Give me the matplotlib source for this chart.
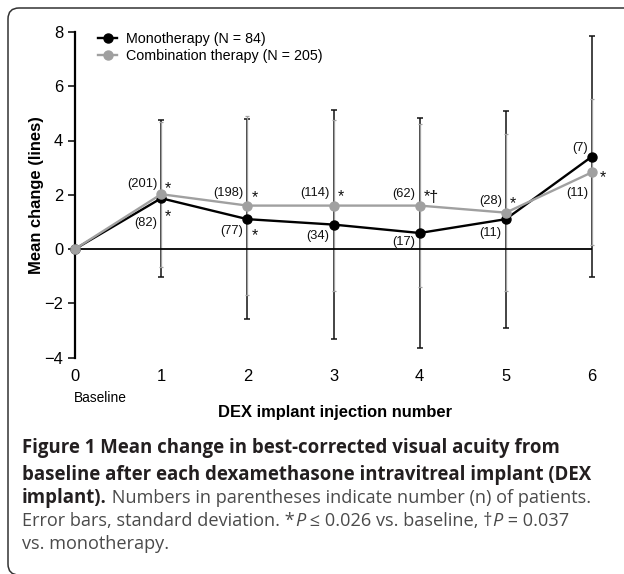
import matplotlib
matplotlib.use("Agg")
import matplotlib.pyplot as plt
from matplotlib.patches import FancyBboxPatch
from matplotlib.transforms import IdentityTransform
from matplotlib.lines import Line2D

# ---------------- data ----------------
injections = [0, 1, 2, 3, 4, 5, 6]
mono_mean = [0, 1.87, 1.10, 0.90, 0.59, 1.10, 3.41]
mono_sd = [0, 2.90, 3.68, 4.22, 4.23, 4.00, 4.45]
combo_mean = [0, 2.02, 1.60, 1.60, 1.60, 1.34, 2.83]
combo_sd = [0, 2.67, 3.30, 3.15, 2.99, 2.90, 2.70]
mono_n = ["", "(82)", "(77)", "(34)", "(17)", "(11)", "(7)"]
combo_n = ["", "(201)", "(198)", "(114)", "(62)", "(28)", "(11)"]
mono_sig = ["", "*", "*", "", "", "", ""]
combo_sig = ["", "*", "*", "*", "*†", "*", "*"]
xtick_labels = ["0", "1", "2", "3", "4", "5", "6"]
yticks = [-4, -2, 0, 2, 4, 6, 8]
legend_labels = ["Monotherapy (N = 84)", "Combination therapy (N = 205)"]

# ---------------- layout (pixels) ----------------
W, H = 624, 574
DPI = 100
mono_lab_dy = [0, -25, -12, -11.3, -9, -14, 8.7]
combo_lab_dy = [0, 10, 12.7, 12.7, 11.7, 11.7, -20.7]
mono_sig_dy = [0, -18, -16, 0, 0, 0, 0]
combo_sig_dy = [0, 6, 7.5, 8.5, 8.5, 9.5, -5]

BLACK = "#000000"
GRAY = "#a0a0a0"
ARIAL = ["Liberation Sans", "DejaVu Sans"]
CAP = ["Open Sans", "DejaVu Sans"]

fig = plt.figure(figsize=(W / DPI, H / DPI), dpi=DPI)
fig.patch.set_facecolor("white")

ax_l, ax_r, ax_t, ax_b = 75, 592, 32, 357.5
ax = fig.add_axes([ax_l / W, 1 - ax_b / H, (ax_r - ax_l) / W, (ax_b - ax_t) / H])
ax.set_xlim(0, 6)
ax.set_ylim(-4, 8)
ax.patch.set_alpha(0)

for s in ["top", "right", "bottom"]:
    ax.spines[s].set_visible(False)
ax.spines["left"].set_linewidth(1.6)
ax.spines["left"].set_zorder(0.5)

ax.set_yticks(yticks)
ax.set_yticklabels([("\u2212" + str(-v)) if v < 0 else str(v) for v in yticks],
                   fontfamily=ARIAL, fontsize=11.9)
ax.set_xticks(injections)
ax.set_xticklabels(xtick_labels, fontfamily=ARIAL, fontsize=11.9)
ax.tick_params(axis="y", length=5, width=1.1, pad=3.6, direction="out")
ax.tick_params(axis="x", length=0, pad=8)

# error bars
ax.errorbar(injections, mono_mean, yerr=mono_sd, fmt="none", ecolor="#111111",
            elinewidth=1.1, capsize=2.0, capthick=1.1, zorder=1, clip_on=False)
ax.errorbar(injections, combo_mean, yerr=combo_sd, fmt="none", ecolor=GRAY,
            elinewidth=0.9, capsize=1.6, capthick=0.9, zorder=2, clip_on=False)

ax.axhline(0, color=BLACK, lw=1.3, zorder=2.5)

ax.plot(injections, mono_mean, color=BLACK, lw=1.7, marker="o", ms=6.5,
        zorder=3, clip_on=False)
ax.plot(injections, combo_mean, color=GRAY, lw=1.7, marker="o", ms=6.5,
        zorder=4, clip_on=False)

# annotations
for i in range(1, 7):
    ax.annotate(mono_n[i], (injections[i], mono_mean[i]), xytext=(-4, mono_lab_dy[i]),
                textcoords="offset pixels", ha="right", va="center",
                fontsize=9.3, fontfamily=ARIAL, color="#111111")
    ax.annotate(combo_n[i], (injections[i], combo_mean[i]), xytext=(-4, combo_lab_dy[i]),
                textcoords="offset pixels", ha="right", va="center",
                fontsize=9.3, fontfamily=ARIAL, color="#111111")
    if mono_sig[i]:
        ax.annotate(mono_sig[i], (injections[i], mono_mean[i]), xytext=(4, mono_sig_dy[i]),
                    textcoords="offset pixels", ha="left", va="center",
                    fontsize=11.5, fontfamily=ARIAL, color="#111111")
    if combo_sig[i]:
        dx = 8 if i == 6 else 4
        ax.annotate(combo_sig[i], (injections[i], combo_mean[i]), xytext=(dx, combo_sig_dy[i]),
                    textcoords="offset pixels", ha="left", va="center",
                    fontsize=11.5, fontfamily=ARIAL, color="#111111")

# legend
handles = [Line2D([], [], color=BLACK, lw=1.7, marker="o", ms=6.5),
           Line2D([], [], color=GRAY, lw=1.7, marker="o", ms=6.5)]
leg = fig.legend(handles, legend_labels, loc="upper left",
                 bbox_to_anchor=(98 / W, 1 - 32 / H), frameon=False,
                 prop={"family": ARIAL, "size": 10.3}, handlelength=1.35,
                 handletextpad=0.6, labelspacing=0.2, borderpad=0, borderaxespad=0)

# axis labels
fig.text(37 / W, 1 - 195 / H, "Mean change (lines)", rotation=90, ha="center", va="center",
         fontsize=11.9, fontweight="bold", fontfamily=ARIAL)
fig.text(335 / W, 1 - 412 / H, "DEX implant injection number", ha="center", va="center",
         fontsize=11.9, fontweight="bold", fontfamily=ARIAL)
fig.text(74 / W, 1 - 398 / H, "Baseline", ha="left", va="center",
         fontsize=9.9, fontfamily=ARIAL)

# caption
renderer = fig.canvas.get_renderer()
BOLD = dict(fontfamily=CAP, fontweight="bold", fontsize=13.4, color="#231f20")
REG = dict(fontfamily=CAP, fontweight="normal", fontsize=13.1, color="#4a4a4a")
REGI = dict(fontfamily=CAP, fontweight="normal", fontstyle="italic", fontsize=13.1, color="#4a4a4a")

def draw_runs(x_px, y_px, runs):
    x = x_px
    for txt, kw in runs:
        t = fig.text(x / W, 1 - y_px / H, txt, ha="left", va="baseline", **kw)
        x += t.get_window_extent(renderer).width

cap_x = 22
draw_runs(cap_x, 453, [("Figure 1 Mean change in best-corrected visual acuity from", BOLD)])
draw_runs(cap_x, 480, [("baseline after each dexamethasone intravitreal implant (DEX", BOLD)])
draw_runs(cap_x, 503, [("implant).", BOLD), (" Numbers in parentheses indicate number (n) of patients.", REG)])
draw_runs(cap_x, 526, [("Error bars, standard deviation. *", REG), ("P", REGI),
                       (" \u2264 0.026 vs. baseline, \u2020", REG), ("P", REGI), (" = 0.037", REG)])
draw_runs(cap_x, 549, [("vs. monotherapy.", REG)])

# frame box
box = FancyBboxPatch((8, -1), 660, 567, boxstyle="round,pad=0,rounding_size=11",
                     transform=IdentityTransform(), fill=False, ec="#333333", lw=1.1)
fig.add_artist(box)

fig.savefig("out.png", dpi=DPI)
